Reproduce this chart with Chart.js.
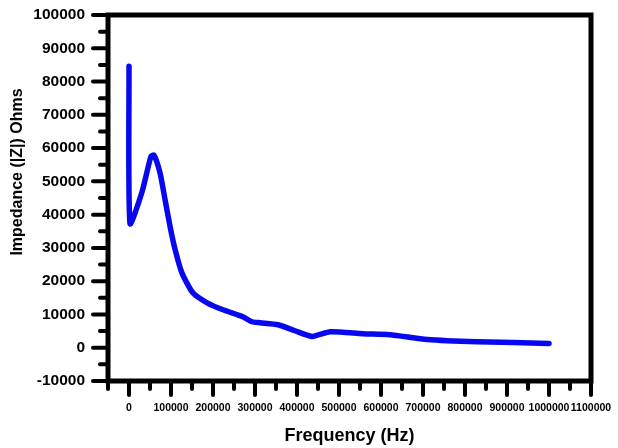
<!DOCTYPE html>
<html>
<head>
<meta charset="utf-8">
<script src="https://cdn.jsdelivr.net/npm/chart.js@4.4.0/dist/chart.umd.min.js"></script>
<style>
  html, body { margin: 0; padding: 0; background: #fff; }
  #wrap { width: 618px; height: 448px; }
</style>
</head>
<body>
<div id="wrap"><canvas id="impChart" width="618" height="448"></canvas></div>
<script>
// values
const freq = [0, 2400, 31000, 52000, 59500, 74000, 86000, 98000, 110000, 126000, 152000, 186000, 224000, 271000, 293000, 312000, 355000, 395000, 436000, 479000, 557000, 621000, 710000, 829000, 1000000];
const impedance = [84600, 37300, 46800, 57400, 57900, 52500, 44400, 36300, 29400, 22500, 16500, 13500, 11400, 9300, 7800, 7500, 6900, 5100, 3400, 4800, 4200, 3900, 2500, 1800, 1300];

const xTicks = [0, 100000, 200000, 300000, 400000, 500000, 600000, 700000, 800000, 900000, 1000000, 1100000];
const xMinor = [-50000, 50000, 150000, 250000, 350000, 450000, 550000, 650000, 750000, 850000, 950000, 1050000];
const yTicks = [-10000, 0, 10000, 20000, 30000, 40000, 50000, 60000, 70000, 80000, 90000, 100000];
const yMinor = [-5000, 5000, 15000, 25000, 35000, 45000, 55000, 65000, 75000, 85000, 95000];
const yTitle = 'Impedance (|Z|) Ohms';

// frame, outward ticks and the y title, drawn through the chart's own scales
const frameTicks = {
  id: 'frameTicks',
  afterDraw(chart) {
    const c = chart.ctx;
    const a = chart.chartArea;
    const xs = chart.scales.x, ys = chart.scales.y;
    c.save();
    c.strokeStyle = '#000';
    c.lineCap = 'round';
    c.lineWidth = 4;
    xTicks.forEach(v => {
      const px = xs.getPixelForValue(v);
      c.beginPath(); c.moveTo(px, a.bottom); c.lineTo(px, a.bottom + 14); c.stroke();
    });
    xMinor.forEach(v => {
      const px = xs.getPixelForValue(v);
      c.beginPath(); c.moveTo(px, a.bottom); c.lineTo(px, a.bottom + 8); c.stroke();
    });
    yTicks.forEach(v => {
      const py = ys.getPixelForValue(v);
      c.beginPath(); c.moveTo(a.left, py); c.lineTo(a.left - 15, py); c.stroke();
    });
    yMinor.forEach(v => {
      const py = ys.getPixelForValue(v);
      c.beginPath(); c.moveTo(a.left, py); c.lineTo(a.left - 8, py); c.stroke();
    });
    c.lineCap = 'square';
    c.lineWidth = 5;
    c.strokeRect(a.left, a.top, a.right - a.left, a.bottom - a.top);

    // y title sits a bit above the middle in the original
    c.translate(18, 172);
    c.rotate(-Math.PI / 2);
    c.fillStyle = '#000';
    c.font = 'bold 16px "Liberation Sans"';
    c.textAlign = 'center';
    c.textBaseline = 'middle';
    c.fillText(yTitle, 0, 0);
    c.restore();
  }
};

new Chart(document.getElementById('impChart').getContext('2d'), {
  type: 'line',
  data: {
    datasets: [{
      label: 'Impedance',
      data: freq.map((f, i) => ({ x: f, y: impedance[i] })),
      borderColor: '#0808f0',
      borderWidth: 5.5,
      borderCapStyle: 'round',
      borderJoinStyle: 'round',
      tension: 0.2,
      pointRadius: 0,
      fill: false
    }]
  },
  options: {
    responsive: false,
    animation: false,
    layout: { padding: { top: 15, right: 27, left: 0, bottom: 0 } },
    plugins: { legend: { display: false }, tooltip: { enabled: false } },
    scales: {
      x: {
        type: 'linear',
        min: -50000,
        max: 1100000,
        afterBuildTicks: s => { s.ticks = xTicks.map(v => ({ value: v })); },
        afterFit: s => { s.height = 67; s.paddingLeft = 0; s.paddingRight = 0; },
        grid: { display: false, drawTicks: false },
        border: { display: false },
        ticks: {
          autoSkip: false, maxRotation: 0, minRotation: 0, padding: 21,
          color: '#000',
          callback: v => String(v),
          font: { family: 'Liberation Sans', weight: 'bold', size: 10.5 }
        },
        title: {
          display: true, text: 'Frequency (Hz)', color: '#000',
          font: { family: 'Liberation Sans', weight: 'bold', size: 18 },
          padding: { top: 0, bottom: 1 }
        }
      },
      y: {
        min: -10000,
        max: 100000,
        afterBuildTicks: s => { s.ticks = yTicks.map(v => ({ value: v })); },
        afterFit: s => { s.width = 108; s.paddingTop = 0; s.paddingBottom = 0; },
        grid: { display: false, drawTicks: false },
        border: { display: false },
        ticks: {
          padding: 23, color: '#000',
          callback: v => String(v),
          font: { family: 'Liberation Sans', weight: 'bold', size: 15.5 }
        },
        title: { display: false }
      }
    }
  },
  plugins: [frameTicks]
});
</script>
</body>
</html>
